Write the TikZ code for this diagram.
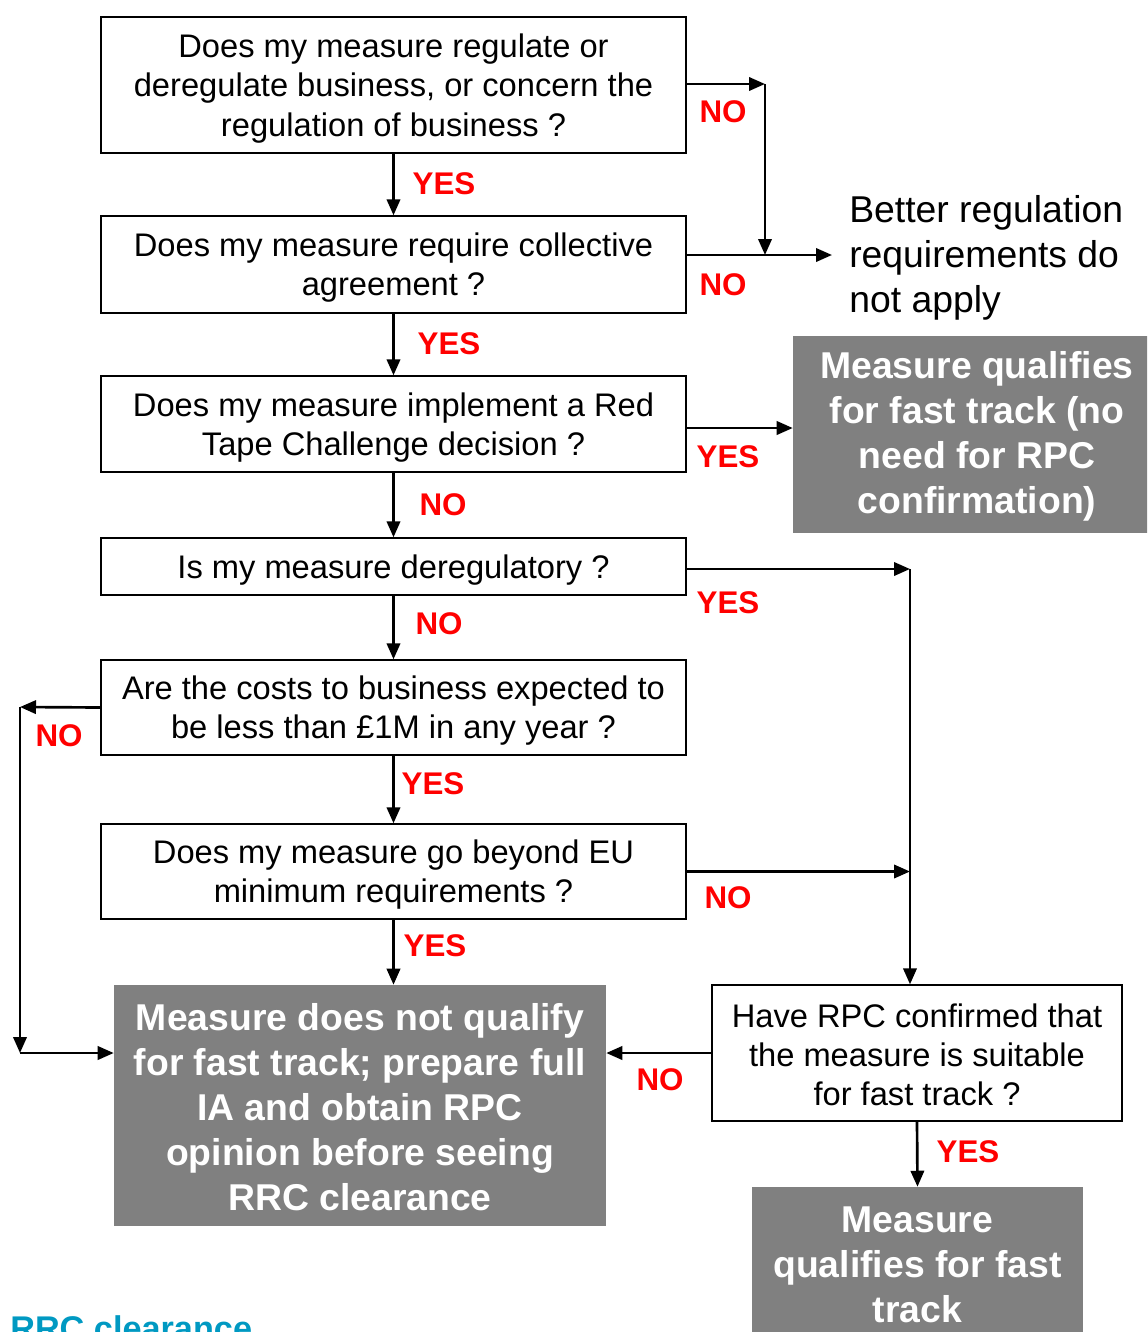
\documentclass[tikz,border=0pt]{standalone}
\usepackage{fontspec}
\setmainfont{Liberation Sans}
\usetikzlibrary{arrows.meta,positioning}
\definecolor{boxgray}{RGB}{128,128,128}
\definecolor{labred}{RGB}{255,0,0}
\definecolor{rrcteal}{RGB}{0,153,194}
\newcommand{\lift}[1]{\rule{0pt}{#1}}

\begin{document}
\begin{tikzpicture}[x=0.75pt,y=-0.75pt,
  qbox/.style={rectangle,draw,line width=1pt,align=center,inner sep=0pt,minimum width=438.75pt,font=\fontsize{24.5}{29.3}\selectfont},
  graybox/.style={rectangle,fill=boxgray,text=white,align=center,inner sep=0pt,font=\fontsize{28}{33.8}\selectfont\bfseries},
  lbl/.style={text=labred,inner sep=0pt,font=\fontsize{23.5}{28}\selectfont\bfseries},
  arr/.style={-{Triangle[length=12pt,width=10pt]},line width=2pt}]
\useasboundingbox (0,0) rectangle (1147,1332);
\clip (0,0) rectangle (1147,1332);

% Questions
\node[qbox,minimum height=102pt] (q1) at (393.5,85) {\lift{23pt}Does my measure regulate or\\deregulate business, or concern the\\regulation of business ?};
\node[qbox,minimum height=72.75pt] (q2) at (393.5,264.5) {\lift{23pt}Does my measure require collective\\agreement ?};
\node[qbox,minimum height=72pt] (q3) at (393.5,424) {\lift{23pt}Does my measure implement a Red\\Tape Challenge decision ?};
\node[qbox,minimum height=42.75pt] (q4) at (393.5,566.5) {\lift{23pt}Is my measure deregulatory ?};
\node[qbox,minimum height=71.25pt] (q5) at (393.5,707.5) {\lift{23pt}Are the costs to business expected to\\be less than £1M in any year ?};
\node[qbox,minimum height=71.25pt] (q6) at (393.5,871.5) {\lift{23pt}Does my measure go beyond EU\\minimum requirements ?};
\node[qbox,minimum width=307.5pt,minimum height=102pt] (rpc) at (917,1053) {\lift{21pt}Have RPC confirmed that\\the measure is suitable\\for fast track ?};

% Outcomes
\node[anchor=west,align=left,inner xsep=12.75pt,inner ysep=0pt,font=\fontsize{28}{33.8}\selectfont] (better) at (832,255) {\lift{25pt}Better regulation\\requirements do\\not apply};
\node[graybox,minimum width=276pt,minimum height=147.75pt] (fastc) at (977,434.5) {\lift{22.6pt}Measure qualifies\\for fast track (no\\need for RPC\\confirmation)};
\node[graybox,minimum width=369pt,minimum height=180.75pt] (notq) at (360,1105.5) {\lift{22.6pt}Measure does not qualify\\for fast track; prepare full\\IA and obtain RPC\\opinion before seeing\\RRC clearance};
\node[graybox,minimum width=248.25pt,minimum height=117pt] (fastb) at (917.5,1265) {Measure\\qualifies for fast\\track};
\node[anchor=base west,inner sep=0pt,text=rrcteal,font=\fontsize{25.7}{30}\selectfont\bfseries] (rrc) at (10,1340) {RRC clearance};

% Elbow points
\coordinate (jn1) at (765,84);
\coordinate (jn2) at (0,428);
\coordinate (jn3) at (910,569);
\coordinate (jn4) at (20,707);
\coordinate (jn5) at (20,1053);

% Connectors
\draw[arr] (q1) -- (q2);
\draw[arr] (q2) -- (q3);
\draw[arr] (q3) -- (q4);
\draw[arr] (q4) -- (q5);
\draw[arr] (q5) -- (q6);
\draw[arr] (q6.south) -- (q6.south |- notq.north);
\draw[arr] (rpc.south) -- (fastb.north);
\draw[arr] (rpc.west) -- (rpc.west -| notq.east);

\draw[arr] (q1.east |- jn1) -- (jn1);
\draw[arr] (jn1) -- (jn1 |- better.west);
\draw[arr] (q2.east |- better.west) -- (better.west);
\draw[arr] (q3.east |- jn2) -- (fastc.west |- jn2);
\draw[arr] (q4.east |- jn3) -- (jn3);
\draw[arr] (jn3) -- (jn3 |- rpc.north);
\draw[arr] (q6.east) -- (jn3 |- q6.east);
\draw[arr] (q5.west) -- (jn4);
\draw[arr] (jn4) -- (jn5);
\draw[arr] (jn5) -- (jn5 -| notq.west);

% Labels
\node[lbl] (n1) at (723,112) {NO};
\node[lbl] (n2) at (723,285) {NO};
\node[lbl] (y1) at (444,184) {YES};
\node[lbl] (y2) at (449,344) {YES};
\node[lbl] (y3) at (728,457) {YES};
\node[lbl] (n3) at (443,505) {NO};
\node[lbl] (y4) at (728,603) {YES};
\node[lbl] (n4) at (439,624) {NO};
\node[lbl] (n5) at (59,736) {NO};
\node[lbl] (y5) at (433,784) {YES};
\node[lbl] (n6) at (728,898) {NO};
\node[lbl] (y6) at (435,946) {YES};
\node[lbl] (n7) at (660,1080) {NO};
\node[lbl] (y7) at (968,1152) {YES};
\end{tikzpicture}
\end{document}
